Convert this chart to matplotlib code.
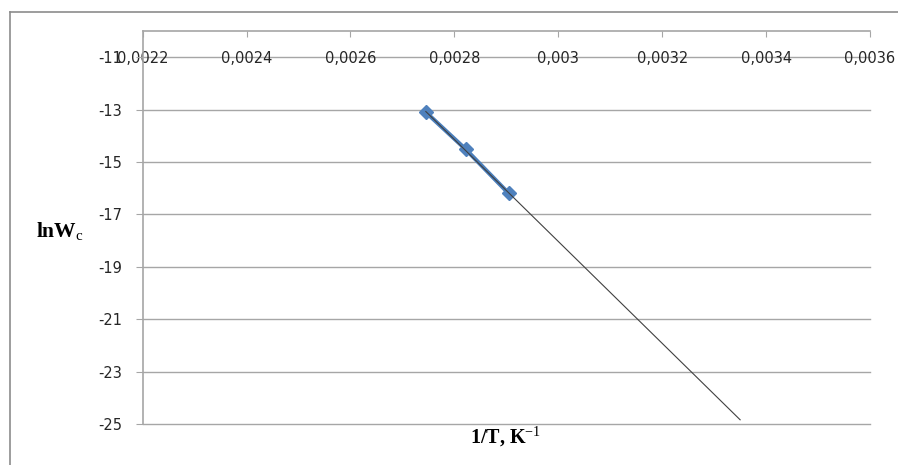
# -*- coding: utf-8 -*-
"""Arrhenius-style plot: lnWc vs 1/T with linear trend line (Excel look)."""
import numpy as np
import matplotlib
matplotlib.use("Agg")
import matplotlib.pyplot as plt
from matplotlib.ticker import FixedLocator, FuncFormatter

# data
inv_T = [0.002745, 0.002822, 0.0029045]
ln_w = [-13.10, -14.52, -16.20]
trend_x_end = 0.00335          # trend line forecast forward to here
x_ticks = [0.0022, 0.0024, 0.0026, 0.0028, 0.0030, 0.0032, 0.0034, 0.0036]
y_ticks = [-25, -23, -21, -19, -17, -15, -13, -11]

plt.rcParams['axes.unicode_minus'] = False
plt.rcParams['mathtext.fontset'] = 'custom'
plt.rcParams['mathtext.bf'] = 'Liberation Serif:bold'
plt.rcParams['mathtext.rm'] = 'Liberation Serif'

GRID = '#a6a6a6'
W, H = 898, 465
fig = plt.figure(figsize=(W / 100, H / 100), dpi=100)
ax = fig.add_axes([142.7 / W, 1 - 424 / H, (870 - 142.7) / W, (424 - 31) / H])

# outer chart frame
fig.add_artist(plt.Line2D([10 / W, 10 / W], [0, 1 - 12 / H], color='#8c8c8c', lw=1.2))
fig.add_artist(plt.Line2D([10 / W, 1], [1 - 12 / H, 1 - 12 / H], color='#8c8c8c', lw=1.2))

ax.set_xlim(0.0022, 0.0036)
ax.set_ylim(-25, -10)
for y in y_ticks:
    ax.axhline(y, color=GRID, lw=1, zorder=0, clip_on=False)

# trend line (linear fit, forecast forward)
k, b = np.polyfit(inv_T, ln_w, 1)
tx = np.array([inv_T[0], trend_x_end])
ax.plot(inv_T, ln_w, color='#4A7EBB', lw=3, marker='D', ms=7,
        mfc='#4F81BD', mec='#4F81BD', zorder=3)
ax.plot(tx, k * tx + b, color='#404040', lw=0.8, zorder=4)

for s in ['right', 'bottom']:
    ax.spines[s].set_visible(False)
for s in ['left', 'top']:
    ax.spines[s].set_color(GRID)
    ax.spines[s].set_linewidth(1.2)


def xfmt(v, p):
    s = f'{v:.4f}'.rstrip('0')
    return s.replace('.', ',')


ax.xaxis.set_major_locator(FixedLocator(x_ticks))
ax.xaxis.set_major_formatter(FuncFormatter(xfmt))
ax.xaxis.tick_top()
ax.tick_params(axis='x', direction='in', length=4, color=GRID, pad=-25,
               labelsize=10.5, labelcolor='#262626')
ax.yaxis.set_major_locator(FixedLocator(y_ticks))
ax.tick_params(axis='y', direction='out', length=5, color=GRID, pad=10,
               labelsize=10.5, labelcolor='#262626')

fig.text(36 / W, 1 - 237 / H, r'$\mathbf{lnW}_{\mathrm{c}}$', fontsize=15.5, va='baseline', ha='left')
fig.text(506 / W, 1 - 437 / H, '1/T, K$^{-1}$', fontsize=14.5, va='center', ha='center',
         family='Liberation Serif', weight='bold')

fig.savefig('out.png', dpi=100)
